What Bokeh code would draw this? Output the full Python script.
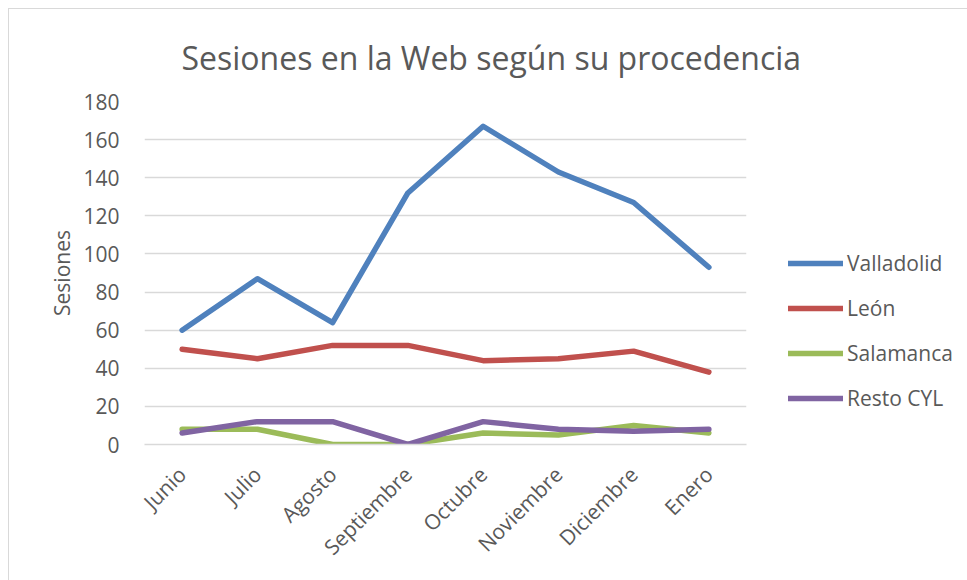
import math
from bokeh.plotting import figure
from bokeh.models import FixedTicker, Legend, LegendItem, ColumnDataSource
from bokeh.embed import file_html
from bokeh.resources import INLINE

months = ["Junio", "Julio", "Agosto", "Septiembre", "Octubre", "Noviembre", "Diciembre", "Enero"]
valladolid = [60, 87, 64, 132, 167, 143, 127, 93]
leon = [50, 45, 52, 52, 44, 45, 49, 38]
salamanca = [8, 8, 0, 0, 6, 5, 10, 6]
resto_cyl = [6, 12, 12, 0, 12, 8, 7, 8]
series_names = ["Valladolid", "León", "Salamanca", "Resto CYL"]
series_colors = ["#4F81BD", "#C0504D", "#9BBB59", "#8064A2"]
y_ticks = [0, 20, 40, 60, 80, 100, 120, 140, 160, 180]

FONT = "Open Sans"
GREY = "#595959"

p = figure(x_range=months, y_range=(0, 180), frame_width=602, frame_height=343,
           output_backend="svg", toolbar_location=None,
           min_border_left=135, min_border_right=222, min_border_top=92, min_border_bottom=136,
           title="Sesiones en la Web según su procedencia")
p.margin = (8, 0, 0, 8)
p.x_range.range_padding = 0
p.styles = {"border-left": "1px solid #d9d9d9", "border-top": "1px solid #d9d9d9"}

p.title.align = "left"
p.title.offset = 37
p.title.text_font = FONT
p.title.text_font_size = "32px"
p.title.text_font_style = "normal"
p.title.text_color = GREY
p.title.standoff = 46

p.outline_line_color = None
p.background_fill_color = "white"
p.border_fill_color = "white"

p.xgrid.grid_line_color = None
p.ygrid.grid_line_color = "#d9d9d9"
p.ygrid.grid_line_width = 1.3
p.yaxis.ticker = FixedTicker(ticks=y_ticks)

for ax in (p.xaxis[0], p.yaxis[0]):
    ax.major_tick_line_color = None
    ax.minor_tick_line_color = None
    ax.major_label_text_font = FONT
    ax.major_label_text_font_size = "21px"
    ax.major_label_text_color = GREY
p.yaxis.axis_line_color = None
p.xaxis.axis_line_color = "#d9d9d9"
p.xaxis.axis_line_width = 1.3
p.xaxis.major_label_orientation = math.pi / 4
p.xaxis.major_label_standoff = 20
p.yaxis.major_label_standoff = 19

p.yaxis.axis_label = "Sesiones"
p.yaxis.axis_label_text_font = FONT
p.yaxis.axis_label_text_font_size = "21px"
p.yaxis.axis_label_text_font_style = "normal"
p.yaxis.axis_label_text_color = GREY
p.yaxis.axis_label_standoff = 4

items = []
for name, vals, col in zip(series_names, [valladolid, leon, salamanca, resto_cyl], series_colors):
    src = ColumnDataSource(dict(x=months, y=vals))
    r = p.line("x", "y", source=src, line_color=col, line_width=5.5,
               line_cap="round", line_join="round")
    items.append(LegendItem(label=name, renderers=[r]))

legend = Legend(items=items, location=(42, 32))
legend.glyph_width = 55
legend.glyph_height = 20
legend.label_height = 20
legend.spacing = 17
legend.label_standoff = 4
legend.padding = 0
legend.margin = 0
legend.border_line_color = None
legend.background_fill_alpha = 0
legend.label_text_font = FONT
legend.label_text_font_size = "21px"
legend.label_text_color = GREY
p.add_layout(legend, "right")

open("out.html", "w").write(file_html(p, INLINE))
